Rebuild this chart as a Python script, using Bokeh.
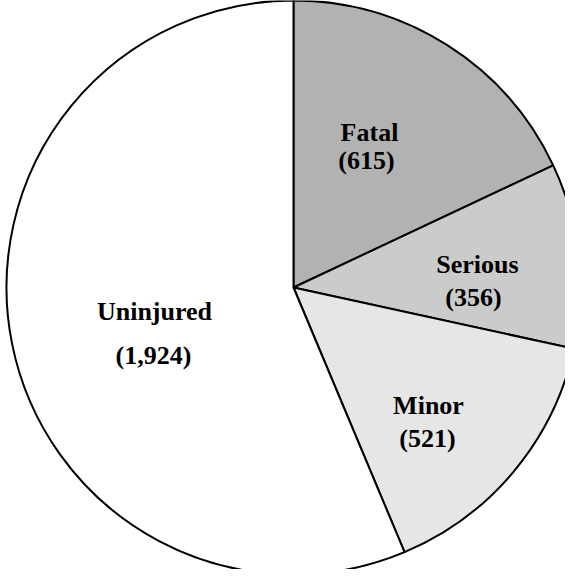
import math
from bokeh.plotting import figure
from bokeh.models import ColumnDataSource, Range1d
from bokeh.core.properties import value
from bokeh.embed import file_html
from bokeh.resources import INLINE

categories = ["Fatal", "Serious", "Minor", "Uninjured"]
counts = [615, 356, 521, 1924]
count_labels = ["(615)", "(356)", "(521)", "(1,924)"]
colors = ["#b2b2b2", "#cbcbcb", "#e6e6e6", "#ffffff"]

# layout (pixel units in figure space)
W, H = 565, 569
CX, CY, R = 293, 282, 287
name_pos = [(369, 437), (477, 305), (428, 164), (154, 258)]
count_pos = [(366, 409), (473, 272), (427, 131), (153, 214)]

total = sum(counts)
starts, ends = [], []
cum = 0.0
for c in counts:
    a0 = math.pi / 2 - 2 * math.pi * cum / total
    cum += c
    a1 = math.pi / 2 - 2 * math.pi * cum / total
    starts.append(a0)
    ends.append(a1)

src = ColumnDataSource(dict(cat=categories, start=starts, end=ends, color=colors))

p = figure(width=W, height=H, output_backend="svg", toolbar_location=None,
           x_range=Range1d(0, W), y_range=Range1d(0, H), min_border=0)
p.axis.visible = False
p.grid.visible = False
p.outline_line_color = None
p.background_fill_color = "white"
p.border_fill_color = "white"

p.wedge(x=CX, y=CY, radius=R, start_angle="start", end_angle="end", direction="clock",
        fill_color="color", line_color="black", line_width=2, source=src)

lab = ColumnDataSource(dict(
    x=[q[0] for q in name_pos] + [q[0] for q in count_pos],
    y=[q[1] for q in name_pos] + [q[1] for q in count_pos],
    t=categories + count_labels))
p.text(x="x", y="y", text="t", source=lab, text_font=value("Liberation Serif"),
       text_font_style="bold", text_font_size="26px", text_align="center",
       text_baseline="alphabetic", text_color="black")

open("out.html", "w").write(file_html(p, INLINE))
